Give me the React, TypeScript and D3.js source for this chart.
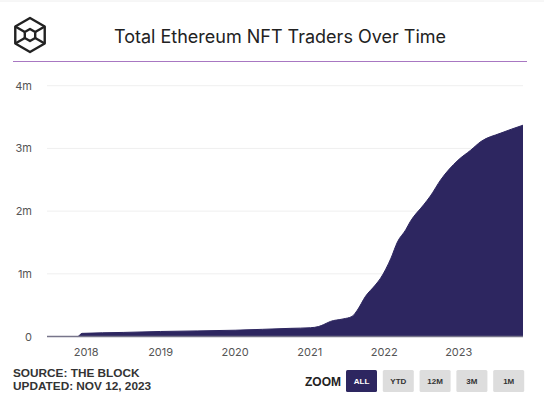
import React from 'react';
import * as d3 from 'd3';

// cumulative traders (millions)
const dates = [
  '2017-06-23', '2017-11-20', '2017-12-12', '2018-07-01', '2019-01-01', '2020-01-01',
  '2020-09-27', '2021-01-05', '2021-02-14', '2021-03-10', '2021-04-12', '2021-06-13',
  '2021-07-27', '2021-08-22', '2021-10-01', '2021-11-18', '2021-12-14', '2022-02-03',
  '2022-03-07', '2022-04-16', '2022-05-08', '2022-07-13', '2022-08-15', '2022-10-05',
  '2022-12-28', '2023-02-28', '2023-04-20', '2023-07-23', '2023-11-12',
];
const traders = [
  0, 0, 0.05, 0.065, 0.08, 0.1,
  0.13, 0.14, 0.16, 0.19, 0.24, 0.28,
  0.32, 0.42, 0.64, 0.82, 0.93, 1.25,
  1.51, 1.7, 1.83, 2.1, 2.24, 2.5,
  2.81, 2.97, 3.11, 3.24, 3.37,
];
const yTicks = [0, 1, 2, 3, 4];
const yTickLabels = ['0', '1m', '2m', '3m', '4m'];
const xTickYears = [2018, 2019, 2020, 2021, 2022, 2023];
const zoomButtons = ['ALL', 'YTD', '12M', '3M', '1M'];

const title = 'Total Ethereum NFT Traders Over Time';
const sourceLines = ['SOURCE: THE BLOCK', 'UPDATED: NOV 12, 2023'];

const App = () => {
  const width = 544;
  const height = 396;
  const plot = { left: 47, right: 523, top: 85.7, bottom: 336.5 };

  const parse = d3.timeParse('%Y-%m-%d');
  const vals = dates.map((d, i) => ({ time: parse(d) as Date, value: traders[i] }));

  const xScale = d3.scaleTime()
    .domain(d3.extent(vals, d => d.time) as [Date, Date])
    .range([plot.left, plot.right]);

  const yScale = d3.scaleLinear()
    .domain([0, 4])
    .range([plot.bottom, plot.top]);

  const areaPlot = d3.area<{ time: Date; value: number }>()
    .x(d => xScale(d.time))
    .y0(plot.bottom)
    .y1(d => yScale(d.value))
    .curve(d3.curveMonotoneX);

  const linePlot = d3.line<{ time: Date; value: number }>()
    .x(d => xScale(d.time))
    .y(d => yScale(d.value))
    .curve(d3.curveMonotoneX);

  const sans = 'Inter, Roboto, sans-serif';
  const bold = '"Liberation Sans", Arial, sans-serif';

  // logo hexagon
  const cx = 30, cy = 35, r = 17, ri = 6;
  const hex = (rad: number) => d3.range(6).map(k => {
    const a = -Math.PI / 2 + k * Math.PI / 3;
    return [cx + rad * Math.cos(a), cy + rad * Math.sin(a)];
  });
  const outer = hex(r);
  const inner = hex(ri);

  return (
    <svg width={width} height={height} style={{ position: 'absolute', left: 0, top: 0, background: '#fff' }}>
      <line x1={0} x2={width} y1={1} y2={1} stroke='#eeeeee' />
      <g fill='none' stroke='#222' strokeWidth={2.4} strokeLinejoin='round'>
        <path d={'M' + outer.map(p => p.join(',')).join('L') + 'Z'} />
        <path d={'M' + inner.map(p => p.join(',')).join('L') + 'Z'} />
        {[1, 2, 4, 5].map(k => (
          <line key={k} x1={outer[k][0]} y1={outer[k][1]} x2={inner[k][0]} y2={inner[k][1]} />
        ))}
      </g>
      <text x={280} y={43} textAnchor='middle' fontFamily={sans} fontSize={18} fill='#222'>{title}</text>
      <line x1={13} x2={527} y1={61.5} y2={61.5} stroke='#a877c2' strokeWidth={1.2} />

      {yTicks.map((t, i) => (
        <g key={t}>
          {t > 0 && <line x1={plot.left} x2={plot.right} y1={yScale(t)} y2={yScale(t)} stroke='#efefef' />}
          <text x={32} y={yScale(t) + 4} textAnchor='end' fontFamily={sans} fontSize={11} fill='#555'>{yTickLabels[i]}</text>
        </g>
      ))}

      <path d={areaPlot(vals) || ''} fill='#2d2660' stroke='none' />
      <path d={linePlot(vals) || ''} fill='none' stroke='#2d2660' strokeWidth={1} />
      <line x1={plot.left} x2={plot.right} y1={plot.bottom} y2={plot.bottom} stroke='#77758a' strokeWidth={1.3} />

      {xTickYears.map(y => (
        <text key={y} x={xScale(new Date(y, 0, 1))} y={356} textAnchor='middle' fontFamily={sans} fontSize={11} fill='#555'>{y}</text>
      ))}

      {sourceLines.map((s, i) => (
        <text key={s} x={13} y={377 + i * 13} fontFamily={bold} fontWeight='bold' fontSize={11.8} fill='#333'>{s}</text>
      ))}

      <text x={305} y={385.5} fontFamily={bold} fontWeight='bold' fontSize={12} fill='#222'>ZOOM</text>
      {zoomButtons.map((b, i) => (
        <g key={b} transform={`translate(${346 + i * 36.8}, 370)`}>
          <rect width={31} height={22} rx={1.5} fill={i === 0 ? '#2d2660' : '#dddddd'} />
          <text x={15.5} y={14} textAnchor='middle' fontFamily={bold} fontWeight='bold' fontSize={8} fill={i === 0 ? '#fff' : '#333'}>{b}</text>
        </g>
      ))}
    </svg>
  );
};

export default App;
